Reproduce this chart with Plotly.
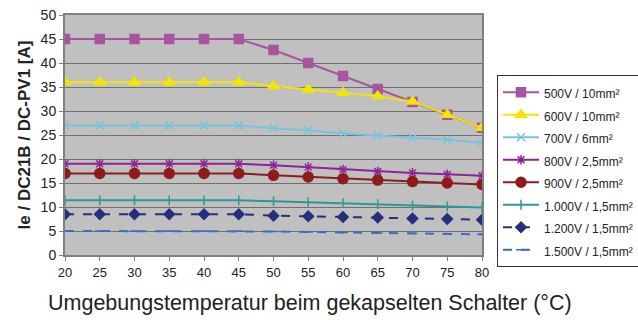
import plotly.graph_objects as go

temps = [20, 25, 30, 35, 40, 45, 50, 55, 60, 65, 70, 75, 80]

s500 = [45, 45, 45, 45, 45, 45, 42.7, 40.0, 37.3, 34.6, 31.9, 29.2, 26.5]
s600 = [36, 36, 36, 36, 36, 36, 35.2, 34.5, 33.8, 33.1, 32.0, 29.2, 26.5]
s700 = [27, 27, 27, 27, 27, 27, 26.4, 26.0, 25.3, 24.9, 24.4, 24.0, 23.4]
s800 = [19, 19, 19, 19, 19, 19, 18.7, 18.3, 17.8, 17.4, 17.1, 16.8, 16.5]
s900 = [17, 17, 17, 17, 17, 17, 16.6, 16.25, 15.9, 15.6, 15.3, 15.0, 14.7]
s1000 = [11.4, 11.4, 11.4, 11.4, 11.4, 11.4, 11.2, 11.0, 10.8, 10.6, 10.3, 10.1, 9.9]
s1200 = [8.5, 8.5, 8.5, 8.5, 8.5, 8.5, 8.2, 8.05, 7.9, 7.8, 7.6, 7.5, 7.35]
s1500 = [5.0, 5.0, 5.0, 5.0, 5.0, 5.0, 4.9, 4.8, 4.7, 4.6, 4.5, 4.4, 4.3]

series = [
    ("500V / 10mm²", s500, "#a8559f", "square", 9, "solid"),
    ("600V / 10mm²", s600, "#f2e600", "triangle-up", 10, "solid"),
    ("700V / 6mm²", s700, "#74c6de", "x-thin-open", 8, "solid"),
    ("800V / 2,5mm²", s800, "#8e2497", "asterisk-open", 8, "solid"),
    ("900V / 2,5mm²", s900, "#8e1c1c", "circle", 10, "solid"),
    ("1.000V / 1,5mm²", s1000, "#2a9a96", "line-ns-open", 7, "solid"),
    ("1.200V / 1,5mm²", s1200, "#262f7c", "diamond", 8, "dash"),
    ("1.500V / 1,5mm²", s1500, "#3a6cc6", "line-ew-open", 7, "dash"),
]

fig = go.Figure()
for name, vals, color, symbol, size, dash in series:
    # larger legend font keeps the row spacing, span sets the visible size
    fig.add_trace(go.Scatter(
        x=temps, y=vals, name=f"<span style='font-size:12px'>{name}</span>",
        mode="lines+markers",
        line=dict(color=color, width=2, dash=dash),
        marker=dict(symbol=symbol, size=size, color=color,
                    line=dict(color=color, width=1.5)),
    ))

fig.update_layout(
    width=638, height=320,
    margin=dict(l=65, r=156, t=15, b=65, autoexpand=False),
    paper_bgcolor="white", plot_bgcolor="#c0c0c0",
    font=dict(family="Liberation Sans, Arial", size=13, color="#222"),
    showlegend=True,
    legend=dict(
        x=1.036, y=0.75, xanchor="left", yanchor="top",
        bordercolor="#333", borderwidth=1, bgcolor="white",
        font=dict(size=15, color="#222"), itemwidth=36,
        tracegroupgap=0,
    ),
    xaxis=dict(
        range=[20, 80], tickvals=temps, ticks="outside", ticklen=4,
        tickcolor="#808080", showgrid=False, zeroline=False,
        showline=True, linecolor="#808080", linewidth=2, mirror=True,
        tickfont=dict(size=13),
    ),
    yaxis=dict(
        range=[0, 50], dtick=5, ticks="outside", ticklen=4,
        tickcolor="#808080", gridcolor="#707070", gridwidth=1,
        zeroline=False, showline=True, linecolor="#808080",
        linewidth=2, mirror=True, tickfont=dict(size=14),
        title=dict(text="<b>Ie / DC21B / DC-PV1 [A]</b>",
                   font=dict(size=17), standoff=6),
    ),
)

fig.add_annotation(
    text="Umgebungstemperatur beim gekapselten Schalter (°C)",
    xref="paper", yref="paper", x=0.587, y=-0.2, xanchor="center",
    yanchor="middle", showarrow=False, font=dict(size=21.5, color="#222"),
)

fig.write_html(
    "out.html",
    config={"displayModeBar": False},
    post_script="document.body.style.margin='0';document.body.style.overflow='hidden';",
)
